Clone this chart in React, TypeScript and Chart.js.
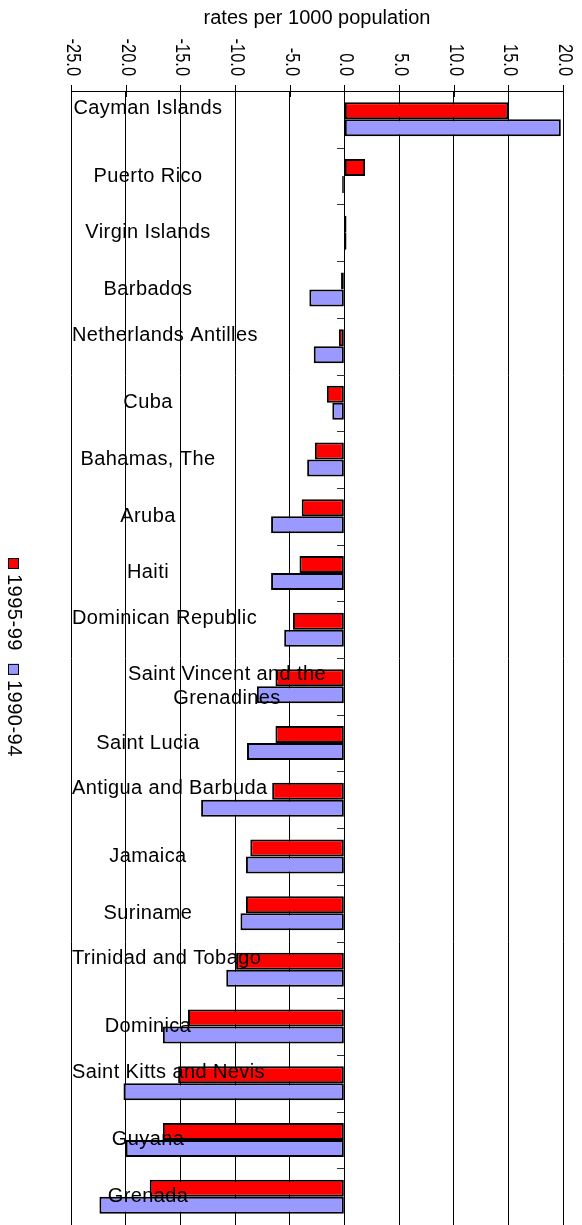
import React, { useEffect, useRef } from "react";
import { Chart, registerables } from "chart.js";

Chart.register(...registerables);

const TITLE = "rates per 1000 population";
const categories = [
  "Cayman Islands",
  "Puerto Rico",
  "Virgin Islands",
  "Barbados",
  "Netherlands Antilles",
  "Cuba",
  "Bahamas, The",
  "Aruba",
  "Haiti",
  "Dominican Republic",
  "Saint Vincent and the Grenadines",
  "Saint Lucia",
  "Antigua and Barbuda",
  "Jamaica",
  "Suriname",
  "Trinidad and Tobago",
  "Dominica",
  "Saint Kitts and Nevis",
  "Guyana",
  "Grenada",
];
const series1995Label = "1995-99";
const series1990Label = "1990-94";
const values1995 = [15.0, 1.9, 0.2, -0.3, -0.5, -1.6, -2.7, -3.9, -4.1, -4.7, -6.3, -6.3, -6.6, -8.6, -9.0, -9.9, -14.3, -15.2, -16.6, -17.8];
const values1990 = [19.8, -0.2, 0.2, -3.2, -2.8, -1.1, -3.4, -6.7, -6.7, -5.5, -8.0, -8.9, -13.1, -9.0, -9.5, -10.8, -16.6, -20.2, -20.0, -22.4];
const xTicks = [-25, -20, -15, -10, -5, 0, 5, 10, 15, 20];

const RED = "#FF0000";
const BLUE = "#9999FF";
const FONT = '"Liberation Sans", Arial, sans-serif';

const overlay = {
  id: "overlay",
  afterDraw(chart: any) {
    const ctx = chart.ctx as CanvasRenderingContext2D;
    const xs = chart.scales.x;
    const ys = chart.scales.y;
    const area = chart.chartArea;
    ctx.save();
    ctx.fillStyle = "#000";
    ctx.strokeStyle = "#000";

    // title
    ctx.font = "20px " + FONT;
    ctx.textAlign = "center";
    ctx.textBaseline = "middle";
    ctx.fillText(TITLE, (area.left + area.right) / 2, 18);

    // tick labels (rotated clockwise) and tick marks
    ctx.lineWidth = 1;
    for (const v of xTicks) {
      const x = Math.round(xs.getPixelForValue(v)) + 0.5;
      ctx.beginPath();
      ctx.moveTo(x, area.top - 6);
      ctx.lineTo(x, area.top + 6);
      ctx.stroke();
      ctx.save();
      ctx.translate(x + 1, 76);
      ctx.rotate(Math.PI / 2);
      ctx.scale(0.82, 1.05);
      ctx.textAlign = "right";
      ctx.textBaseline = "middle";
      ctx.font = "20px " + FONT;
      ctx.fillText(v.toFixed(1), 0, 0);
      ctx.restore();
    }

    // category boundary ticks at zero line
    const x0 = Math.round(xs.getPixelForValue(0));
    const n = categories.length;
    const band = (ys.bottom - ys.top) / n;
    ctx.strokeStyle = "#333";
    for (let i = 1; i < n; i++) {
      const y = Math.round(ys.top + i * band) + 0.5;
      ctx.beginPath();
      ctx.moveTo(x0 - 7, y);
      ctx.lineTo(x0, y);
      ctx.stroke();
    }

    // category labels
    ctx.font = "20px " + FONT;
    (ctx as any).letterSpacing = "0.4px";
    ctx.textBaseline = "middle";
    for (let i = 0; i < n; i++) {
      const label = categories[i];
      const cy = ys.getPixelForValue(i);
      const w = ctx.measureText(label).width;
      if (w > 270) {
        const words = label.split(" ");
        const lines: string[] = [];
        let cur = "";
        for (const wd of words) {
          const t = cur ? cur + " " + wd : wd;
          if (ctx.measureText(t).width > 210 && cur) {
            lines.push(cur);
            cur = wd;
          } else cur = t;
        }
        lines.push(cur);
        ctx.textAlign = "center";
        const lh = 24;
        lines.forEach((ln, k) => {
          ctx.fillText(ln, 227, cy + (k - (lines.length - 1) / 2) * lh);
        });
      } else {
        ctx.textAlign = "left";
        const left = Math.max(area.left + 1, 148 - w / 2);
        const y = w > 140 ? cy - 11 : cy;
        ctx.fillText(label, left, y);
      }
    }

    // legend (rotated clockwise)
    const lx = 14;
    let ly = 558;
    const items = [
      { label: series1995Label, color: RED },
      { label: series1990Label, color: BLUE },
    ];
    ctx.font = "20px " + FONT;
    (ctx as any).letterSpacing = "0.5px";
    for (const it of items) {
      ctx.fillStyle = it.color;
      ctx.fillRect(lx - 6, ly, 11, 11);
      ctx.strokeStyle = "#000";
      ctx.lineWidth = 1;
      ctx.strokeRect(lx - 6 + 0.5, ly + 0.5, 10, 10);
      ly += 16;
      ctx.save();
      ctx.translate(lx, ly);
      ctx.rotate(Math.PI / 2);
      ctx.fillStyle = "#000";
      ctx.textAlign = "left";
      ctx.textBaseline = "middle";
      ctx.fillText(it.label, 0, 0);
      const tw = ctx.measureText(it.label).width;
      ctx.restore();
      ly += tw + 13;
    }
    (ctx as any).letterSpacing = "0px";
    ctx.restore();
  },
};

export default function App() {
  const ref = useRef<HTMLCanvasElement | null>(null);
  useEffect(() => {
    if (!ref.current) return;
    const chart = new Chart(ref.current, {
      type: "bar",
      data: {
        labels: categories,
        datasets: [
          {
            label: series1995Label,
            data: values1995,
            backgroundColor: RED,
            borderColor: "#000",
            borderWidth: 2,
            borderSkipped: false,
            categoryPercentage: 0.6,
            barPercentage: 1.0,
          },
          {
            label: series1990Label,
            data: values1990,
            backgroundColor: BLUE,
            borderColor: "#000",
            borderWidth: 2,
            borderSkipped: false,
            categoryPercentage: 0.6,
            barPercentage: 1.0,
          },
        ],
      },
      options: {
        indexAxis: "y",
        responsive: false,
        animation: false,
        layout: { padding: { top: 91, left: 71, right: 19, bottom: 0 } },
        plugins: {
          legend: { display: false },
          title: { display: false },
          tooltip: { enabled: false },
        },
        scales: {
          x: {
            position: "top",
            min: -25,
            max: 20,
            ticks: { display: false, stepSize: 5 },
            grid: { color: "#000", lineWidth: 1, drawTicks: false },
            border: { display: true, color: "#000", width: 1 },
            afterFit: (s: any) => {
              s.height = 0;
            },
          },
          y: {
            display: false,
            grid: { display: false },
          },
        },
      },
      plugins: [overlay],
    } as any);
    return () => chart.destroy();
  }, []);
  return (
    <div style={{ position: "absolute", left: 0, top: 0, width: 582, height: 1225, background: "#fff" }}>
      <canvas ref={ref} width={582} height={1225} style={{ display: "block" }} />
    </div>
  );
}
